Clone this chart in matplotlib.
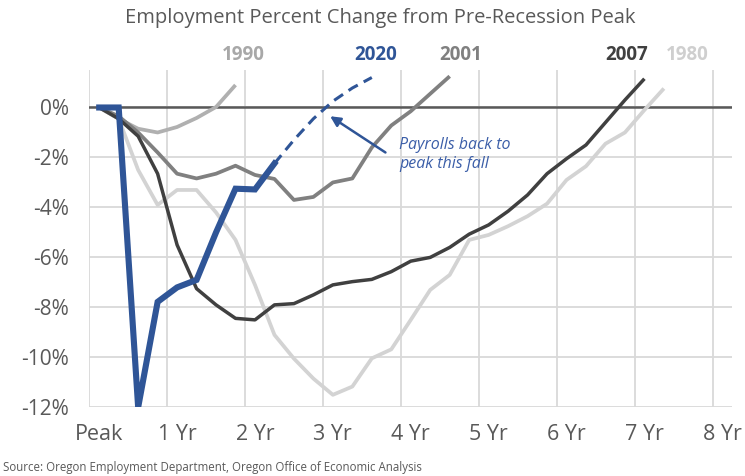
import numpy as np
import matplotlib
matplotlib.use("Agg")
import matplotlib.pyplot as plt

plt.rcParams['font.family'] = ['Open Sans', 'DejaVu Sans']

# Employment % change from pre-recession peak, quarterly (quarter 0 = peak)
rec_1980 = [0, -0.45, -2.5, -3.9, -3.3, -3.3, -4.2, -5.3, -7.1, -9.1, -10.05, -10.85,
            -11.5, -11.17, -10.04, -9.68, -8.5, -7.3, -6.7, -5.3, -5.1, -4.75, -4.35,
            -3.85, -2.9, -2.35, -1.45, -1.0, -0.1, 0.76]
rec_1990 = [0, -0.45, -0.85, -1.0, -0.78, -0.42, 0.02, 0.9]
rec_2001 = [0, -0.35, -1.0, -1.8, -2.65, -2.84, -2.65, -2.33, -2.7, -2.86, -3.7, -3.58,
            -3.0, -2.84, -1.6, -0.72, -0.15, 0.55, 1.25]
rec_2007 = [0, -0.45, -1.15, -2.65, -5.5, -7.25, -7.9, -8.44, -8.5, -7.9, -7.85, -7.5,
            -7.1, -6.97, -6.88, -6.57, -6.15, -6.0, -5.6, -5.07, -4.7, -4.15, -3.5,
            -2.65, -2.05, -1.5, -0.6, 0.3, 1.15]
rec_2020 = [0, 0, -12.0, -7.78, -7.2, -6.9, -5.0, -3.25, -3.28, -2.24]
rec_2020_proj = [-2.24, -1.3, -0.45, 0.25, 0.78, 1.2]   # starts at last actual quarter

year_labels = ['Peak', '1 Yr', '2 Yr', '3 Yr', '4 Yr', '5 Yr', '6 Yr', '7 Yr', '8 Yr']
y_ticks = [0, -2, -4, -6, -8, -10, -12]

series = [
    ('1980', rec_1980, '#d3d3d3', 2.7),
    ('1990', rec_1990, '#b0b0b0', 2.7),
    ('2001', rec_2001, '#808080', 2.7),
    ('2007', rec_2007, '#404040', 2.5),
]
label_pos = {'1990': 1.97, '2020': 3.68, '2001': 4.77, '2007': 6.9, '1980': 7.67}
label_col = {'1990': '#a8a8a8', '2020': '#2f5597', '2001': '#808080',
             '2007': '#404040', '1980': '#cfcfcf'}


def qx(n, start=0):
    # quarterly points sit in the middle of each quarter
    return (np.arange(n) + start + 0.5) / 4


fig = plt.figure(figsize=(7.45, 4.76), dpi=100)
ax = fig.add_axes([0.1201, 0.1443, 0.8625, 0.7086])

for name, vals, col, lw in series:
    ax.plot(qx(len(vals)), vals, color=col, lw=lw, solid_capstyle='butt', zorder=3)

blue = '#2f5597'
ax.plot(qx(len(rec_2020_proj), len(rec_2020) - 1), rec_2020_proj, color=blue, lw=2.2,
        dashes=(3.5, 2.2), zorder=4)
ax.plot(qx(len(rec_2020)), rec_2020, color=blue, lw=4.4, solid_joinstyle='miter',
        zorder=5)

ax.axhline(0, color='#595959', lw=1.8, zorder=2)

for name, xp in label_pos.items():
    ax.text(xp, 2.1, name, color=label_col[name], fontsize=13.5, fontweight='bold',
            ha='center', va='center', clip_on=False)

ax.text(3.98, -1.9, 'Payrolls back to\npeak this fall', color='#3b5ea8', fontsize=11.5,
        style='italic', ha='left', va='center', linespacing=1.25)
ax.annotate('', xy=(3.09, -0.35), xytext=(3.8, -1.8),
            arrowprops=dict(arrowstyle='-|>,head_length=0.6,head_width=0.3',
                            color=blue, lw=1.8, shrinkA=0, shrinkB=0))

ax.set_xlim(0, 8.25)
ax.set_ylim(-12, 1.5)
ax.set_xticks(np.arange(9))
ax.set_xticklabels([''] * 9)
ax.set_xticks(np.arange(9) + 0.125, minor=True)
ax.set_xticklabels(year_labels, minor=True, fontsize=15.5, color='#595959')
ax.set_yticks(y_ticks)
ax.set_yticklabels([f'{v}%' for v in y_ticks], fontsize=15, color='#595959')
ax.tick_params(axis='both', which='both', length=0)
ax.tick_params(axis='x', which='minor', pad=12)
ax.tick_params(axis='y', pad=15)
ax.grid(True, which='major', color='#d9d9d9', lw=1.3, zorder=0)
for s in ax.spines.values():
    s.set_visible(False)

fig.text(0.51, 0.962, 'Employment Percent Change from Pre-Recession Peak',
         ha='center', va='center', fontsize=14.5, color='#595959')
fig.text(0.004, 0.017, 'Source: Oregon Employment Department, Oregon Office of Economic Analysis',
         ha='left', va='center', fontsize=8.3, color='#595959')

fig.savefig('out.png', dpi=100)
